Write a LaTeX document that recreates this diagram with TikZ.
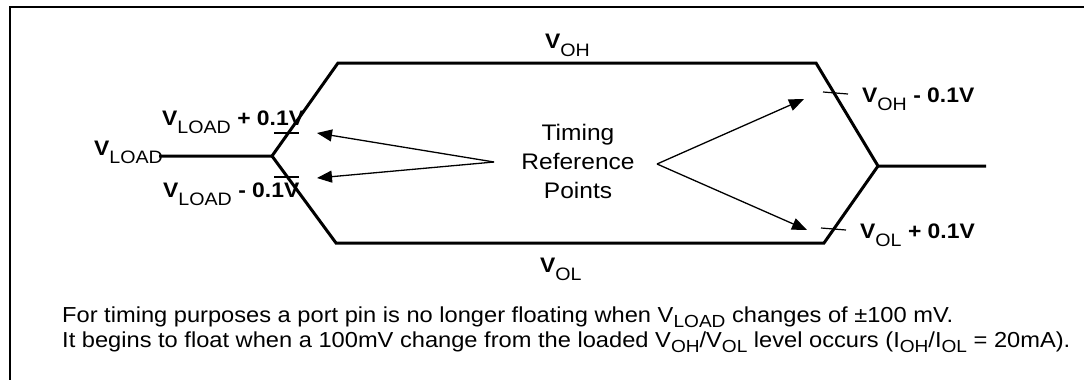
\documentclass[tikz,border=0pt]{standalone}
\usepackage{fontspec}
\setmainfont{Liberation Sans}[FakeStretch=1.09]
\usetikzlibrary{arrows.meta}
\newcommand\lsub[1]{\raisebox{-8pt}{\fontsize{18}{18}\mdseries\selectfont #1}}
\newcommand\tsub[1]{\raisebox{-5pt}{\fontsize{17.5}{17.5}\selectfont #1}}
\begin{document}
\begin{tikzpicture}[x=1pt,y=-1pt,
  wave/.style={line width=3pt,line join=miter},
  tickthick/.style={line width=2.2pt},
  tickthin/.style={line width=1.2pt},
  refarrow/.style={line width=1.3pt,-{Triangle[length=15pt,width=12pt]}},
  lbl/.style={font=\fontsize{21}{21}\bfseries\selectfont,inner sep=0pt,anchor=base west},
  ttext/.style={font=\fontsize{22.5}{22.5}\selectfont,inner sep=0pt,anchor=base},
  note/.style={font=\fontsize{21.7}{21.7}\selectfont,inner sep=0pt,anchor=base west}]
\useasboundingbox (0,0) rectangle (1084,380);
\fill[white] (0,0) rectangle (1084,380);
% frame
\coordinate (fbl) at (10,381);
\coordinate (ftl) at (10,7);
\coordinate (ftr) at (1085,7);
\draw[line width=2pt] (fbl) -- (ftl) -- (ftr);
% waveform points
\coordinate (ls) at (159,156);
\coordinate (lj) at (272,156);
\coordinate (tl) at (338,63);
\coordinate (tr) at (816,63);
\coordinate (rj) at (878,166);
\coordinate (re) at (986,166);
\coordinate (bl) at (336,243);
\coordinate (br) at (824,243);
\draw[wave] (ls) -- (lj) -- (tl) -- (tr) -- (rj) -- (re);
\draw[wave] (lj) -- (bl) -- (br) -- (rj);
% ticks
\coordinate (t1a) at (274,133); \coordinate (t1b) at (299,133);
\coordinate (t2a) at (274,177); \coordinate (t2b) at (299,177);
\coordinate (t3a) at (823,92);  \coordinate (t3b) at (848,94);
\coordinate (t4a) at (821,228); \coordinate (t4b) at (846,230);
\draw[tickthick] (t1a) -- (t1b);
\draw[tickthick] (t2a) -- (t2b);
\draw[tickthin] (t3a) -- (t3b);
\draw[tickthin] (t4a) -- (t4b);
% labels
\node[lbl] (vload) at (94,155) {V\lsub{LOAD}};
\node[lbl] (vlp) at (162,125) {V\lsub{LOAD} + 0.1V};
\node[lbl] (vlm) at (163,197) {V\lsub{LOAD} - 0.1V};
\node[lbl] (voh) at (545,48) {V\lsub{OH}};
\node[lbl] (vol) at (540,272) {V\lsub{OL}};
\node[lbl] (vohm) at (862,102) {V\lsub{OH} - 0.1V};
\node[lbl] (volp) at (860,238) {V\lsub{OL} + 0.1V};
% timing reference points
\node[ttext] (tim1) at (578,140) {Timing};
\node[ttext] (tim2) at (578,169) {Reference};
\node[ttext] (tim3) at (578,198) {Points};
\coordinate (apl) at (494,162);
\coordinate (apr) at (657,164);
\coordinate (tipl1) at (317,133);
\coordinate (tipl2) at (317,178);
\coordinate (tipr1) at (804,99);
\coordinate (tipr2) at (807,230);
\draw[refarrow] (apl) -- (tipl1);
\draw[refarrow] (apl) -- (tipl2);
\draw[refarrow] (apr) -- (tipr1);
\draw[refarrow] (apr) -- (tipr2);
% notes
\node[note] (n1) at (62,322) {For timing purposes a port pin is no longer floating when V\tsub{LOAD} changes of \char"00B1 100 mV.};
\node[note] (n2) at (62,347) {It begins to float when a 100mV change from the loaded V\tsub{OH}/V\tsub{OL} level occurs (I\tsub{OH}/I\tsub{OL} = 20mA).};
\end{tikzpicture}
\end{document}
